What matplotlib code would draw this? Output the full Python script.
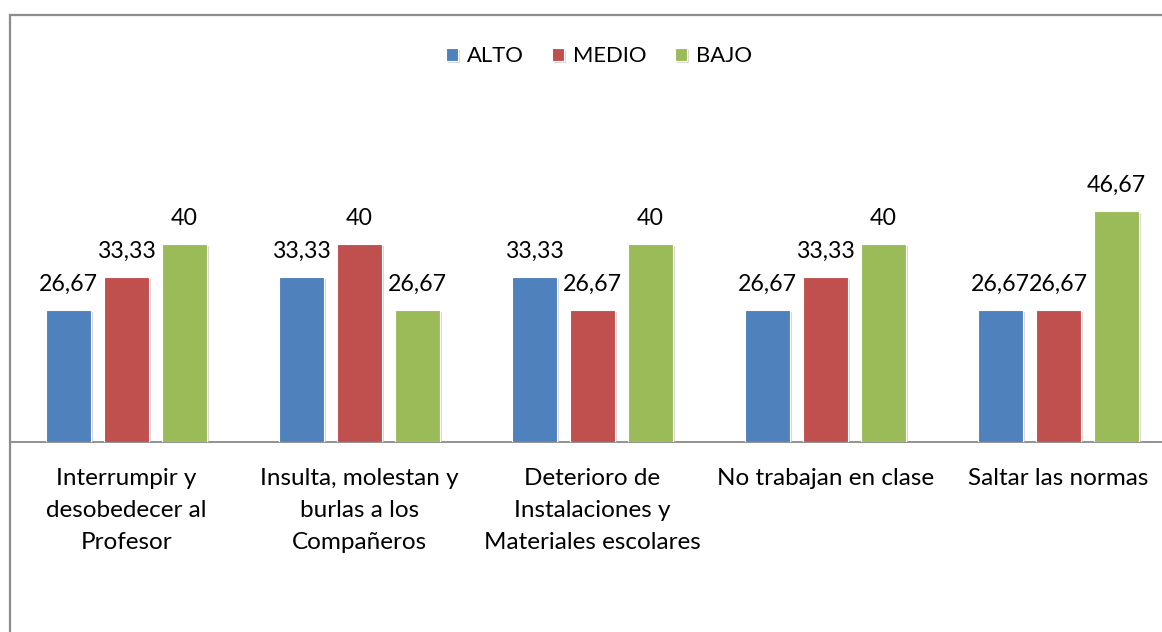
import matplotlib
matplotlib.use('Agg')
import matplotlib.pyplot as plt
import numpy as np
from matplotlib.patches import Rectangle
import matplotlib.patheffects as pe

categories = ['Interrumpir y\ndesobedecer al\nProfesor',
              'Insulta, molestan y\nburlas a los\nCompañeros',
              'Deterioro de\nInstalaciones y\nMateriales escolares',
              'No trabajan en clase',
              'Saltar las normas']
series = ['ALTO', 'MEDIO', 'BAJO']
alto = [26.67, 33.33, 33.33, 26.67, 26.67]
medio = [33.33, 40, 26.67, 33.33, 26.67]
bajo = [40, 26.67, 40, 40, 46.67]
colors = ['#4F81BD', '#C0504D', '#9BBB59']

plt.rcParams['font.family'] = ['Lato', 'DejaVu Sans']

W, H = 1162, 632
fig = plt.figure(figsize=(W / 100, H / 100), dpi=100)

# outer chart border (extends past right/bottom edge)
fig.patches.append(Rectangle((10 / W, -0.05), 1.2, (H - 15) / H + 0.05,
                             transform=fig.transFigure, fill=False,
                             edgecolor='#8c8c8c', linewidth=1.6))

ax = fig.add_axes([10 / W, (H - 442) / H, 1165 / W, 247.5 / H])
ax.set_xlim(-0.5, 4.5)
ax.set_ylim(0, 50)

x = np.arange(len(categories))
bw = 0.193
step = 0.249
shadow = [pe.SimplePatchShadow(offset=(1.5, -1.5), shadow_rgbFace='#bbbbbb', alpha=0.6), pe.Normal()]
for i, (name, vals) in enumerate(zip(series, [alto, medio, bajo])):
    pos = x + (i - 1) * step
    bars = ax.bar(pos, vals, bw, color=colors[i], edgecolor='white',
                  linewidth=0.8, label=name, zorder=3)
    for b in bars:
        b.set_path_effects(shadow)
    for p, v in zip(pos, vals):
        txt = ('%.2f' % v).replace('.', ',') if v != int(v) else str(int(v))
        ax.text(p, v + 3.0, txt, ha='center', va='bottom', fontsize=16.7, color='black')

for s in ['top', 'right', 'left']:
    ax.spines[s].set_visible(False)
ax.spines['bottom'].set_color('#898989')
ax.spines['bottom'].set_linewidth(1.3)
ax.set_yticks([])
ax.set_xticks(x)
ax.set_xticklabels(categories, fontsize=17.5, linespacing=1.65)
ax.tick_params(axis='x', length=0, pad=19)

fig.legend(loc='center', bbox_to_anchor=(599 / W, 1 - 56 / H), ncol=3,
           frameon=False, fontsize=15.8, handlelength=0.55, handleheight=0.55,
           handletextpad=0.4, columnspacing=1.3)

fig.savefig('out.png', dpi=100)
